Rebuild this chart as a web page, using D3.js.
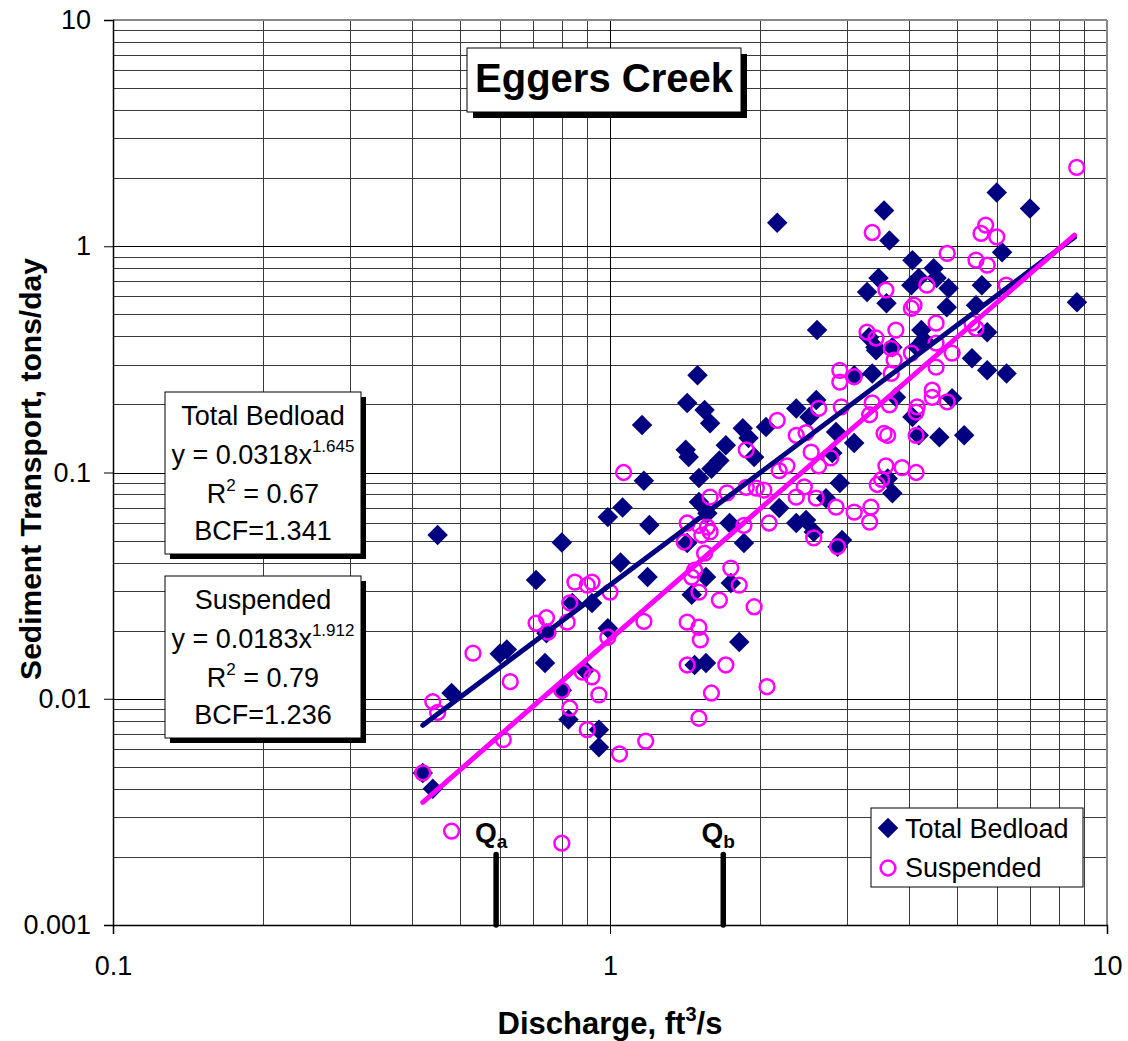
<!DOCTYPE html>
<html><head><meta charset="utf-8">
<script src="https://cdn.jsdelivr.net/npm/d3@7"></script>
<style>body{margin:0;background:#fff}svg{display:block}text{font-family:"Liberation Sans",Arial,sans-serif;fill:#000}</style>
</head><body><svg id="c" width="1128" height="1041"></svg>
<script>
const xTickValues=[0.1,1,10];
const xTickLabels=["0.1","1","10"];
const yTickValues=[0.001,0.01,0.1,1,10];
const yTickLabels=["0.001","0.01","0.1","1","10"];
const seriesNames=["Total Bedload","Suspended"];
const chartTitle="Eggers Creek";
const xTitle="Discharge, ft";
const yTitle="Sediment Transport, tons/day";

const bedloadQ=[0.45,0.48,0.42,0.44,0.60,0.62,0.71,0.74,0.745,0.80,0.80,0.825,0.84,0.92,0.89,0.95,0.95,0.99,0.99,1.06,1.05,1.19,1.2,1.16,1.17,
1.5,1.43,1.55,1.59,1.42,1.44,1.85,2.06,1.71,1.9,1.95,1.66,1.6,1.51,1.51,1.57,1.43,1.74,1.86,1.56,1.46,1.75,1.82,1.48,1.56,
2.37,2.6,2.52,2.85,3.1,2.8,2.9,2.72,2.19,2.37,2.48,2.57,2.93,2.87,3.1,3.37,3.43,2.17,2.61,
6.0,7.0,3.56,3.65,6.15,4.06,4.48,3.47,3.29,4.04,4.18,4.54,4.8,5.6,3.6,4.76,5.45,5.74,8.7,4.23,4.28,4.15,3.32,3.42,3.7,3.76,4.06,4.18,4.6,5.16,4.88,5.35,5.74,6.28,3.7,3.62];
const bedloadT=[0.053,0.0106,0.0047,0.0040,0.0158,0.0165,0.0335,0.0144,0.0195,0.049,0.0109,0.0081,0.0265,0.0265,0.0134,0.0073,0.0061,0.0635,0.0205,0.070,0.040,0.0345,0.0586,0.162,0.092,
0.269,0.203,0.189,0.165,0.126,0.117,0.157,0.159,0.132,0.142,0.117,0.113,0.104,0.0945,0.074,0.066,0.0488,0.0598,0.0488,0.0345,0.0288,0.0325,0.0178,0.0141,0.0144,
0.192,0.209,0.176,0.151,0.135,0.122,0.0898,0.077,0.0696,0.0598,0.0616,0.0546,0.0503,0.047,0.269,0.274,0.347,1.27,0.426,
1.73,1.47,1.44,1.06,0.94,0.868,0.8,0.723,0.627,0.673,0.723,0.723,0.652,0.673,0.56,0.538,0.549,0.417,0.566,0.426,0.384,0.358,0.396,0.358,0.358,0.215,0.176,0.146,0.143,0.146,0.213,0.32,0.283,0.274,0.081,0.094];

const suspendedQ=[0.44,0.45,0.42,0.48,0.53,0.63,0.61,0.71,0.745,0.75,0.85,0.90,0.92,0.83,0.82,1.0,0.99,0.80,0.88,0.92,0.95,0.83,0.90,1.045,1.18,0.80,1.17,1.065,
2.9,2.9,3.1,2.17,2.63,2.92,3.37,3.33,2.37,2.48,2.54,2.63,2.78,2.27,2.19,1.88,1.97,2.04,1.88,2.37,2.46,2.6,2.85,3.1,3.35,3.33,1.59,1.72,1.43,1.51,1.57,1.59,1.53,1.41,1.55,1.86,2.09,2.57,2.87,1.48,1.46,1.75,1.82,1.51,1.66,1.95,1.43,1.51,1.52,1.43,1.71,1.6,2.07,1.51,
8.69,3.37,5.7,5.58,6.0,4.77,5.45,5.74,6.27,4.34,3.59,4.09,4.04,3.29,3.43,3.76,4.53,5.35,5.45,3.68,3.73,4.04,4.53,4.88,4.53,3.68,4.45,4.45,4.77,4.15,4.13,3.65,3.56,3.62,4.13,3.59,3.87,4.13,3.52,3.45];
const suspendedT=[0.0097,0.0087,0.0047,0.0026,0.0159,0.0119,0.0066,0.0216,0.0228,0.0197,0.0328,0.0318,0.0328,0.0265,0.0218,0.0296,0.0187,0.0109,0.0131,0.0125,0.0104,0.0091,0.0073,0.0057,0.0065,0.0023,0.0220,0.100,
0.283,0.251,0.265,0.17,0.192,0.195,0.203,0.18,0.146,0.15,0.123,0.107,0.116,0.107,0.102,0.126,0.0853,0.0835,0.086,0.0778,0.0863,0.077,0.0703,0.0668,0.0703,0.0604,0.0778,0.0813,0.0598,0.0584,0.0574,0.0546,0.0528,0.0493,0.044,0.0584,0.0598,0.0514,0.047,0.037,0.0345,0.0378,0.0318,0.0296,0.0273,0.0255,0.0218,0.0207,0.0182,0.0141,0.0141,0.0106,0.0113,0.0082,
2.23,1.15,1.24,1.14,1.1,0.93,0.868,0.825,0.673,0.673,0.64,0.549,0.532,0.417,0.393,0.426,0.457,0.457,0.434,0.354,0.314,0.337,0.292,0.337,0.373,0.274,0.231,0.215,0.205,0.195,0.185,0.199,0.149,0.146,0.146,0.107,0.105,0.1,0.0932,0.0885];

const trendCoef=[0.0318,0.0183];
const trendExp=[1.645,1.912];
const trendQRange=[0.42,8.6];
const trendR2=["0.67","0.79"];
const trendBCF=["1.341","1.236"];
const markerQ=[0.59,1.69];
const markerSub=["a","b"];
const markerTop=0.00205;

const colors=["#000080","#FF00FF"];
const L=113,R=1107,T=20,B=925;
const svg=d3.select("#c");
const x=d3.scaleLog().domain([0.1,10]).range([L,R]);
const y=d3.scaleLog().domain([0.001,10]).range([B,T]);

// grid
const xMinor=[],yMinor=[];
[0.1,1].forEach(d=>{for(let k=2;k<=9;k++)xMinor.push(d*k);});
[0.001,0.01,0.1,1].forEach(d=>{for(let k=2;k<=9;k++)yMinor.push(d*k);});
const g=svg.append("g");
g.selectAll(".vx").data(xMinor).join("line").attr("x1",d=>Math.round(x(d))+0.5).attr("x2",d=>Math.round(x(d))+0.5).attr("y1",T).attr("y2",B).attr("stroke","#3a3a3a").attr("stroke-width",1);
g.selectAll(".hy").data(yMinor).join("line").attr("y1",d=>Math.round(y(d))+0.5).attr("y2",d=>Math.round(y(d))+0.5).attr("x1",L).attr("x2",R).attr("stroke","#3a3a3a").attr("stroke-width",1);
g.selectAll(".vM").data(xTickValues).join("line").attr("x1",d=>Math.round(x(d))+0.5).attr("x2",d=>Math.round(x(d))+0.5).attr("y1",T).attr("y2",B).attr("stroke","#000").attr("stroke-width",1);
g.selectAll(".hM").data(yTickValues).join("line").attr("y1",d=>Math.round(y(d))+0.5).attr("y2",d=>Math.round(y(d))+0.5).attr("x1",L).attr("x2",R).attr("stroke","#000").attr("stroke-width",1);
// border
svg.append("line").attr("x1",L).attr("x2",R).attr("y1",T).attr("y2",T).attr("stroke","#888").attr("stroke-width",2);
svg.append("line").attr("x1",R).attr("x2",R).attr("y1",T).attr("y2",B).attr("stroke","#888").attr("stroke-width",2);

// axes
const ax=svg.append("g").attr("transform",`translate(0,${B})`).call(d3.axisBottom(x).tickValues(xTickValues).tickFormat((d,i)=>xTickLabels[i]).tickSize(9).tickPadding(22));
const ay=svg.append("g").attr("transform",`translate(${L},0)`).call(d3.axisLeft(y).tickValues(yTickValues).tickFormat((d,i)=>yTickLabels[i]).tickSize(9).tickPadding(13));
[ax,ay].forEach(a=>{a.select(".domain").attr("stroke","#000").attr("stroke-width",1.5);a.selectAll(".tick line").attr("stroke","#000");a.selectAll("text").attr("font-size",27).attr("font-family","Liberation Sans, Arial, sans-serif").attr("fill","#000");});

// points
const bed=bedloadQ.map((q,i)=>[q,bedloadT[i]]);
const sus=suspendedQ.map((q,i)=>[q,suspendedT[i]]);
const diamond=d3.symbol(d3.symbolSquare,210);
svg.append("g").selectAll("path").data(bed).join("path").attr("d",diamond).attr("transform",d=>`translate(${x(d[0])},${y(d[1])}) rotate(45)`).attr("fill",colors[0]);
svg.append("g").selectAll("circle").data(sus).join("circle").attr("cx",d=>x(d[0])).attr("cy",d=>y(d[1])).attr("r",7.4).attr("fill","none").attr("stroke",colors[1]).attr("stroke-width",2.5);

// trend lines
const line=d3.line().x(d=>x(d[0])).y(d=>y(d[1]));
trendCoef.forEach((a,i)=>{
  const pts=trendQRange.map(q=>[q,a*Math.pow(q,trendExp[i])]);
  svg.append("path").attr("d",line(pts)).attr("stroke",colors[i]).attr("stroke-width",5).attr("stroke-linecap","round").attr("fill","none");
});

// Q markers
markerQ.forEach((q,i)=>{
  svg.append("line").attr("x1",x(q)).attr("x2",x(q)).attr("y1",y(markerTop)).attr("y2",B).attr("stroke","#000").attr("stroke-width",5.5).attr("stroke-linecap","round");
  const t=svg.append("text").attr("x",x(q)-5).attr("y",842).attr("text-anchor","middle").attr("font-weight","bold").attr("font-size",28);
  t.append("tspan").text("Q");
  t.append("tspan").attr("font-size",19).attr("dy",6).text(markerSub[i]);
});

// title box
function shadowBox(x0,y0,w,h,off){
  svg.append("rect").attr("x",x0+off).attr("y",y0+off).attr("width",w).attr("height",h).attr("fill","#000");
  svg.append("rect").attr("x",x0).attr("y",y0).attr("width",w).attr("height",h).attr("fill","#fff").attr("stroke","#000").attr("stroke-width",1);
}
shadowBox(467,48,274,64,6);
svg.append("text").attr("x",604).attr("y",92).attr("text-anchor","middle").attr("font-weight","bold").attr("font-size",40).text(chartTitle);

// equation boxes
[392,576].forEach((top,i)=>{
  shadowBox(165,top,196,162,5);
  const cx=263;
  svg.append("text").attr("x",cx).attr("y",top+33).attr("text-anchor","middle").attr("font-size",27).text(seriesNames[i]);
  const e=svg.append("text").attr("x",cx).attr("y",top+72).attr("text-anchor","middle").attr("font-size",27);
  e.append("tspan").text(`y = ${trendCoef[i]}x`);
  e.append("tspan").attr("font-size",17).attr("dy",-12).text(trendExp[i].toFixed(3));
  const r=svg.append("text").attr("x",cx).attr("y",top+111).attr("text-anchor","middle").attr("font-size",27);
  r.append("tspan").text("R");
  r.append("tspan").attr("font-size",17).attr("dy",-12).text("2");
  r.append("tspan").attr("dy",12).text(` = ${trendR2[i]}`);
  svg.append("text").attr("x",cx).attr("y",top+148).attr("text-anchor","middle").attr("font-size",27).text(`BCF=${trendBCF[i]}`);
});

// legend
svg.append("rect").attr("x",871).attr("y",808).attr("width",212).attr("height",79).attr("fill","#fff").attr("stroke","#000").attr("stroke-width",1);
svg.append("path").attr("d",diamond).attr("transform","translate(888,828) rotate(45)").attr("fill",colors[0]);
svg.append("circle").attr("cx",888).attr("cy",868).attr("r",7.4).attr("fill","none").attr("stroke",colors[1]).attr("stroke-width",2.5);
svg.append("text").attr("x",905).attr("y",838).attr("font-size",27).text(seriesNames[0]);
svg.append("text").attr("x",905).attr("y",877).attr("font-size",27).text(seriesNames[1]);

// axis titles
const xt=svg.append("text").attr("x",610).attr("y",1034).attr("text-anchor","middle").attr("font-weight","bold").attr("font-size",31);
xt.append("tspan").text(xTitle);
xt.append("tspan").attr("font-size",20).attr("dy",-13).text("3");
xt.append("tspan").attr("dy",13).text("/s");
svg.append("text").attr("transform","translate(41,469) rotate(-90)").attr("text-anchor","middle").attr("font-weight","bold").attr("font-size",30).text(yTitle);
</script></body></html>
